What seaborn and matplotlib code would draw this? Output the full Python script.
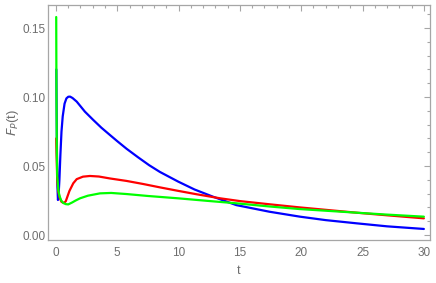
import matplotlib
matplotlib.use("Agg")
import matplotlib.pyplot as plt
import pandas as pd
import seaborn as sns
from matplotlib.ticker import MultipleLocator, FormatStrFormatter

# values
t_blue = [0.03, 0.08, 0.12, 0.16, 0.2, 0.28, 0.36, 0.45, 0.55, 0.7, 0.85, 1.0, 1.15, 1.35, 1.69,
          2.36, 3.04, 3.7, 4.4, 5.0, 5.76, 6.7, 7.6, 8.48, 9.97, 11.3, 12.8, 14.7, 17.4, 19.9,
          22.0, 24.5, 27.0, 30.0]
f_blue = [0.12, 0.06, 0.035, 0.0254, 0.027, 0.04, 0.058, 0.075, 0.086, 0.0952, 0.099, 0.1002,
          0.1003, 0.0993, 0.0967, 0.0894, 0.0834, 0.0778, 0.0725, 0.068, 0.0625, 0.0563, 0.0506,
          0.0457, 0.0387, 0.033, 0.0278, 0.0217, 0.0169, 0.0133, 0.0108, 0.0085, 0.0063, 0.0044]

t_red = [0.02, 0.1, 0.2, 0.3, 0.45, 0.65, 0.8, 0.98, 1.1, 1.41, 1.69, 2.2, 2.77, 3.5, 4.4,
         5.76, 7.1, 8.5, 9.97, 11.5, 13.4, 15.0, 17.5, 19.9, 22.2, 24.5, 27.0, 30.0]
f_red = [0.07, 0.04, 0.031, 0.027, 0.024, 0.0232, 0.0245, 0.029, 0.032, 0.0375, 0.0405, 0.0423,
         0.0428, 0.0424, 0.041, 0.0392, 0.037, 0.0345, 0.032, 0.0295, 0.0266, 0.0246, 0.0222,
         0.020, 0.0181, 0.0162, 0.0143, 0.0121]

t_green = [0.02, 0.04, 0.07, 0.1, 0.2, 0.3, 0.43, 0.6, 0.8, 1.0, 1.3, 1.6, 1.96, 2.6, 3.59,
           4.5, 5.76, 7.5, 9.97, 12.3, 14.7, 17.4, 19.9, 22.2, 24.5, 27.0, 30.0]
f_green = [0.158, 0.1, 0.06, 0.043, 0.032, 0.028, 0.025, 0.0232, 0.0224, 0.0222, 0.0235, 0.025,
           0.0266, 0.0285, 0.0302, 0.0305, 0.0297, 0.0283, 0.0266, 0.0248, 0.023, 0.0207, 0.0188,
           0.0175, 0.0162, 0.0148, 0.0133]

series_names = ["blue", "red", "green"]
colors = {"blue": "#0000ff", "red": "#ff0000", "green": "#00ff00"}

df = pd.concat([
    pd.DataFrame({"t": t_blue, "F": f_blue, "series": "blue"}),
    pd.DataFrame({"t": t_red, "F": f_red, "series": "red"}),
    pd.DataFrame({"t": t_green, "F": f_green, "series": "green"}),
], ignore_index=True)

sns.set_theme(style="white")
plt.rcParams["font.family"] = ["Liberation Sans", "DejaVu Sans"]

fig = plt.figure(figsize=(4.36, 2.83), dpi=100)
ax = fig.add_axes([48 / 436, 43 / 283, 382 / 436, 235 / 283])

for name in series_names:
    sns.lineplot(data=df[df["series"] == name], x="t", y="F", color=colors[name],
                 linewidth=1.6, estimator=None, sort=False, ax=ax, legend=False)

ax.set_xlim(-0.65, 30.5)
ax.set_ylim(-0.0036, 0.1667)

ax.xaxis.set_major_locator(MultipleLocator(5))
ax.xaxis.set_minor_locator(MultipleLocator(1))
ax.yaxis.set_major_locator(MultipleLocator(0.05))
ax.yaxis.set_minor_locator(MultipleLocator(0.01))
ax.yaxis.set_major_formatter(FormatStrFormatter("%.2f"))

gray = "#a6a6a6"
for sp in ax.spines.values():
    sp.set_color(gray)
    sp.set_linewidth(0.9)

ax.tick_params(which="both", direction="in", top=True, right=True, color=gray,
               labelcolor="#6e6e6e", labelsize=8.5, width=0.8)
ax.tick_params(which="major", length=4.5)
ax.tick_params(which="minor", length=2.5)
ax.tick_params(axis="x", pad=5)
ax.tick_params(axis="y", pad=2)

ax.set_xlabel("t", color="#6e6e6e", fontsize=9, labelpad=4)
ax.set_ylabel(r"$F_P$(t)", color="#6e6e6e", fontsize=9.5, labelpad=1)

fig.savefig("out.png", dpi=100)
